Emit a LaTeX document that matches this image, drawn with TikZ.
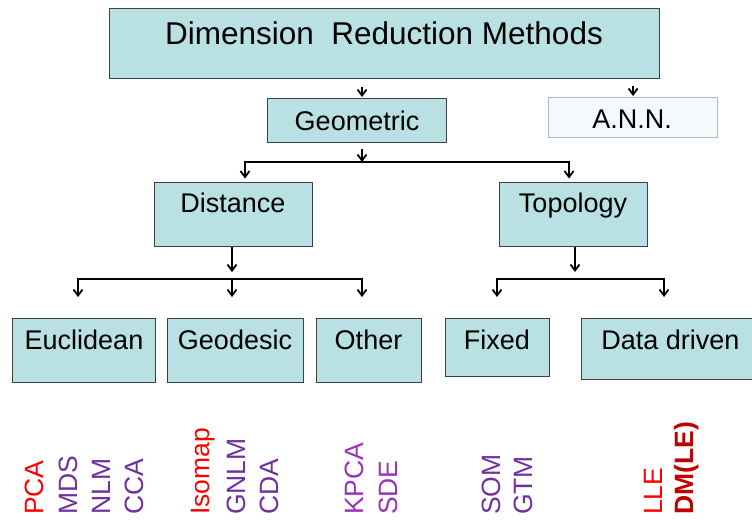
\documentclass[tikz,border=0pt]{standalone}
\usepackage{fontspec}
\setmainfont{Liberation Sans}
\usetikzlibrary{arrows.meta}
\definecolor{boxfill}{HTML}{B9E0E3}
\definecolor{boxline}{HTML}{404040}
\definecolor{annline}{HTML}{A9B8C4}
\definecolor{annfill}{HTML}{F4F9FC}
\definecolor{redc}{HTML}{FF0000}
\definecolor{purc}{HTML}{7030A0}
\definecolor{magc}{HTML}{9933BB}
\definecolor{darkred}{HTML}{C00000}
\tikzset{
  x=1pt, y=-1pt,
  boxnode/.style={draw=boxline, fill=boxfill, line width=0.8pt, inner sep=0pt},
  annbox/.style={draw=annline, fill=annfill, line width=1.2pt, inner sep=0pt},
  boxtext/.style={inner sep=0pt, anchor=base, font=\fontsize{27}{31}\selectfont},
  titletext/.style={inner sep=0pt, anchor=base, font=\fontsize{31.5}{36}\selectfont},
  meth/.style={inner sep=0pt, anchor=base west, rotate=90, font=\fontsize{26.5}{30}\selectfont},
  conn/.style={line width=1.8pt, -{Straight Barb[length=6pt,width=9pt,line width=1.8pt]}},
  stub/.style={line width=1.8pt, -{Straight Barb[length=6pt,width=9pt,line width=1.8pt]}},
  bar/.style={line width=2.6pt}
}
\begin{document}
\begin{tikzpicture}
\useasboundingbox (0,0) rectangle (752,520);
\begin{scope}
\clip (0,0) rectangle (752,520);
% boxes
\node[boxnode, minimum width=550pt, minimum height=70pt, anchor=north west] (top) at (109,8) {};
\node[titletext] (toptext) at (384,44.5) {Dimension\ \ Reduction Methods};
\node[boxnode, minimum width=179pt, minimum height=44pt, anchor=north west] (geo) at (267,98) {};
\node[boxtext] (geotext) at (357,130) {Geometric};
\node[annbox, minimum width=169pt, minimum height=40pt, anchor=north west] (ann) at (548,97) {};
\node[boxtext] (anntext) at (632,128.5) {A.N.N.};
\node[boxnode, minimum width=158pt, minimum height=64pt, anchor=north west] (dist) at (154,182) {};
\node[boxtext] (disttext) at (233,212.5) {Distance};
\node[boxnode, minimum width=148pt, minimum height=64pt, anchor=north west] (topo) at (499,182) {};
\node[boxtext] (topotext) at (573,212.5) {Topology};
\node[boxnode, minimum width=143pt, minimum height=64pt, anchor=north west] (eucl) at (12,318) {};
\node[boxtext] (eucltext) at (84,349.5) {Euclidean};
\node[boxnode, minimum width=136pt, minimum height=64pt, anchor=north west] (geod) at (167,318) {};
\node[boxtext] (geodtext) at (235,349.5) {Geodesic};
\node[boxnode, minimum width=105pt, minimum height=64pt, anchor=north west] (oth) at (316,318) {};
\node[boxtext] (othtext) at (368.5,349.5) {Other};
\node[boxnode, minimum width=104pt, minimum height=58pt, anchor=north west] (fix) at (445,318) {};
\node[boxtext] (fixtext) at (497,349.5) {Fixed};
\node[boxnode, minimum width=190pt, minimum height=61pt, anchor=north west] (data) at (581,318) {};
\node[boxtext] (datatext) at (670.5,349.5) {Data driven};
\end{scope}
% connector coordinates
\coordinate (gx) at (362,0);
\coordinate (g1) at (362,149);
\coordinate (bar1m) at (362,162);
\coordinate (bar1l) at (245,162);
\coordinate (bar1r) at (569,162);
\coordinate (bar2m) at (232,279);
\coordinate (bar2l) at (78,279);
\coordinate (bar2r) at (362,279);
\coordinate (bar3m) at (575,279);
\coordinate (bar3l) at (497,279);
\coordinate (bar3r) at (664,279);
% top level stubs
\draw[stub, shorten >=1pt] (geo.north -| gx) ++(0,-11) -- (geo.north -| gx);
\draw[stub, shorten >=1pt] (ann.north) ++(0,-11) -- (ann.north);
% geometric to distance/topology
\draw[stub] (g1) -- (bar1m);
\draw[bar] ([xshift=-1.3pt]bar1l) -- ([xshift=1.3pt]bar1r);
\draw[conn, shorten >=3.5pt] (bar1l) -- (bar1l |- dist.north);
\draw[conn, shorten >=3.5pt] (bar1r) -- (bar1r |- topo.north);
% distance
\draw[conn, shorten >=7pt] (dist.south -| bar2m) -- (bar2m);
\draw[bar] ([xshift=-1.3pt]bar2l) -- ([xshift=1.3pt]bar2r);
\draw[conn, shorten >=21pt] (bar2l) -- (bar2l |- eucl.north);
\draw[conn, shorten >=21pt] (bar2m) -- (bar2m |- geod.north);
\draw[conn, shorten >=21pt] (bar2r) -- (bar2r |- oth.north);
% topology
\draw[conn, shorten >=7pt] (topo.south -| bar3m) -- (bar3m);
\draw[bar] ([xshift=-1.3pt]bar3l) -- ([xshift=1.3pt]bar3r);
\draw[conn, shorten >=21pt] (bar3l) -- (bar3l |- fix.north);
\draw[conn, shorten >=21pt] (bar3r) -- (bar3r |- data.north);
% methods
\node[meth, text=redc] (pca) at (43,515) {PCA};
\node[meth, text=purc] (mds) at (77,515) {MDS};
\node[meth, text=purc] (nlm) at (110,515) {NLM};
\node[meth, text=purc] (cca) at (143,515) {CCA};
\node[meth, text=redc] (iso) at (209,515) {Isomap};
\node[meth, text=purc] (gnlm) at (245,515) {GNLM};
\node[meth, text=purc] (cda) at (278,515) {CDA};
\node[meth, text=magc] (kpca) at (363,515) {KPCA};
\node[meth, text=magc] (sde) at (397,515) {SDE};
\node[meth, text=purc] (som) at (500,515) {SOM};
\node[meth, text=purc] (gtm) at (532,515) {GTM};
\node[meth, text=redc] (lle) at (662,515) {LLE};
\node[meth, text=darkred, font=\fontsize{26.5}{30}\selectfont\bfseries] (dmle) at (693,515) {DM(LE)};
\end{tikzpicture}
\end{document}
